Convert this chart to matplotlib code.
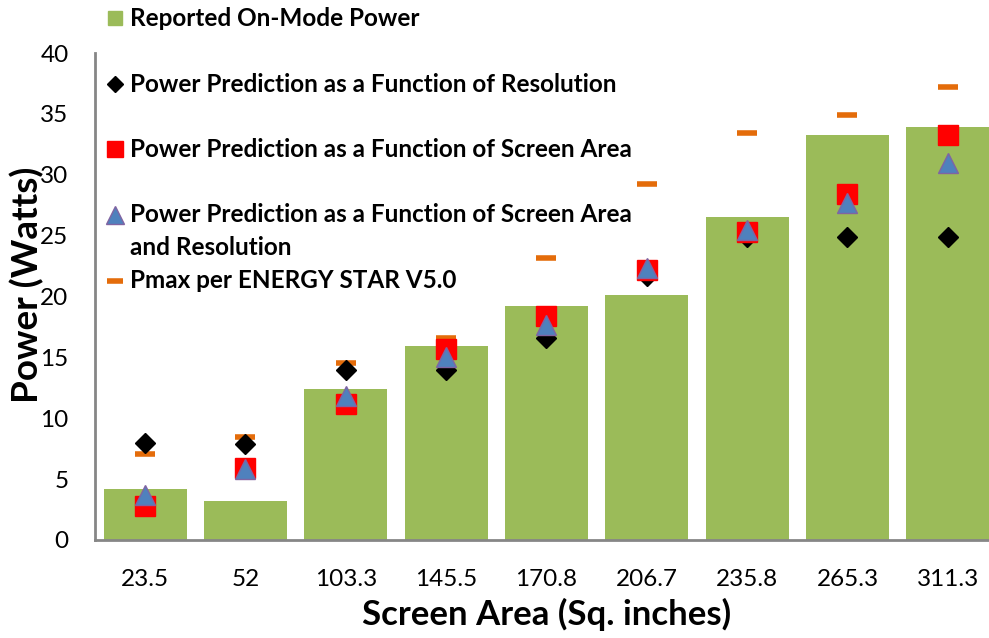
import matplotlib
matplotlib.use('Agg')
import matplotlib.pyplot as plt
from matplotlib.lines import Line2D
import numpy as np

# screen areas (categories) and power values
areas = ['23.5', '52', '103.3', '145.5', '170.8', '206.7', '235.8', '265.3', '311.3']
reported = [4.2, 3.2, 12.4, 15.9, 19.2, 20.1, 26.5, 33.3, 33.9]
pred_resolution = [8.0, 7.9, 14.0, 14.0, 16.6, 21.7, 24.9, 24.9, 24.9]
pred_area = [2.8, 5.9, 11.2, 15.7, 18.4, 22.2, 25.3, 28.4, 33.3]
pred_area_res = [3.7, 5.8, 11.8, 15.0, 17.7, 22.3, 25.5, 27.7, 31.0]
pmax_v5 = [7.1, 8.5, 14.5, 16.6, 23.2, 29.2, 33.4, 34.9, 37.2]

plt.rcParams['font.family'] = ['Lato', 'DejaVu Sans']

green = '#9BBB59'
orange = '#E46C0A'
red = '#FF0000'
tri_face = '#4F81BD'
tri_edge = '#8064A2'

W, H = 989, 638
fig = plt.figure(figsize=(W / 100, H / 100), dpi=100)
ax = fig.add_axes([95 / W, 98 / H, 903 / W, 487 / H])

x = np.arange(len(areas))
ax.bar(x, reported, width=0.83, color=green, zorder=1)
ax.plot(x, pmax_v5, ls='none', marker='_', ms=14.5, mew=4, color=orange, zorder=2)
ax.plot(x, pred_resolution, ls='none', marker='D', ms=10.5, color='black', zorder=3)
ax.plot(x, pred_area, ls='none', marker='s', ms=14.5, color=red, zorder=4)
ax.plot(x, pred_area_res, ls='none', marker='^', ms=15, mfc=tri_face,
        mec=tri_edge, mew=1, zorder=5)

ax.set_xlim(-0.5, len(areas) - 0.5)
ax.set_ylim(0, 40)
ax.set_yticks(range(0, 41, 5))
ax.set_xticks(x)
ax.set_xticklabels(areas)
ax.tick_params(axis='both', length=0, labelsize=17.5, colors='black')
ax.tick_params(axis='x', pad=21)
ax.tick_params(axis='y', pad=19)
for s in ['top', 'right']:
    ax.spines[s].set_visible(False)
for s in ['left', 'bottom']:
    ax.spines[s].set_color('#868686')
    ax.spines[s].set_linewidth(2)

ax.set_xlabel('Screen Area (Sq. inches)', fontsize=25, fontweight='bold')
ax.set_ylabel('Power (Watts)', fontsize=26.5, fontweight='bold')
ax.xaxis.set_label_coords(0.5, -0.118)
ax.yaxis.set_label_coords(-0.056, 0.524)


# legend drawn by hand so the two-line entry keeps its marker on the first line
def fx(px):
    return px / W


def fy(py):
    return 1 - py / H


legend_rows = [
    (18, dict(marker='s', ms=10, color=green), 'Reported On-Mode Power'),
    (84, dict(marker='D', ms=8.5, color='black'), 'Power Prediction as a Function of Resolution'),
    (149, dict(marker='s', ms=12, color=red), 'Power Prediction as a Function of Screen Area'),
    (215, dict(marker='^', ms=13, mfc=tri_face, mec=tri_edge, color=tri_face),
     'Power Prediction as a Function of Screen Area'),
    (281, dict(marker='_', ms=12, mew=4, color=orange), 'Pmax per ENERGY STAR V5.0'),
]
for py, style, text in legend_rows:
    fig.add_artist(Line2D([fx(115)], [fy(py)], ls='none', transform=fig.transFigure, **style))
    fig.text(fx(130), fy(py), text, fontsize=17.5, fontweight='bold', va='center', ha='left')
fig.text(fx(130), fy(247), 'and Resolution', fontsize=17.5, fontweight='bold', va='center', ha='left')

fig.savefig('out.png', dpi=100)
